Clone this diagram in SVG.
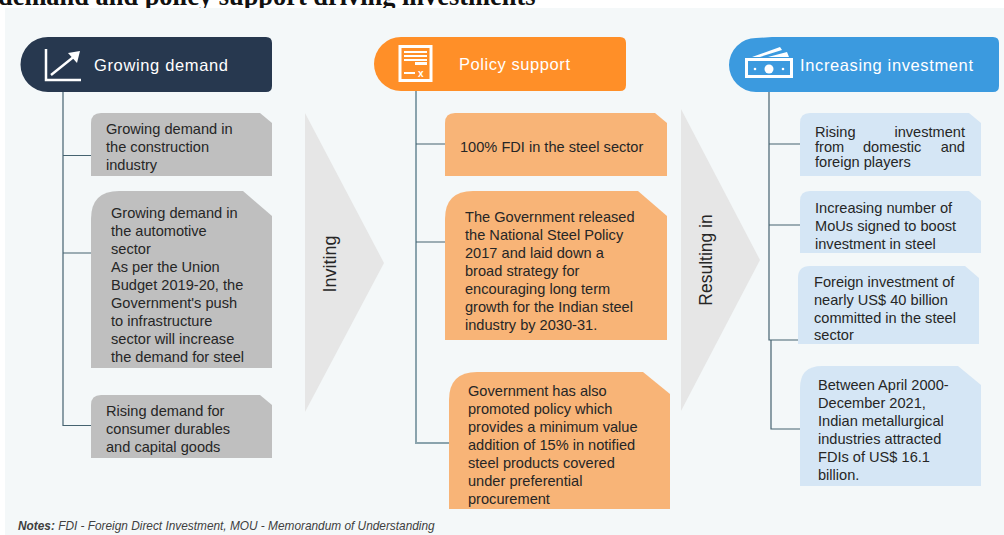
<svg xmlns="http://www.w3.org/2000/svg" width="1004" height="535" viewBox="0 0 1004 535">
<style>
text{font-family:"Liberation Sans",Arial,sans-serif}
.t{font-size:14.6px;fill:#262626;transform:translateY(.7px)}
.h{font-size:16.5px;fill:#fff}
.c{fill:none;stroke:#456370;stroke-width:1.2}
.o{fill:none;stroke:#8aa3ad;stroke-width:2}
.i{fill:none;stroke:#fff;stroke-width:2.5}
.gr{fill:#bfbfbf}.or{fill:#f8b477}.bl{fill:#d5e6f5}
.ar{fill:#e6e6e6}
</style>
<rect width="1004" height="535" fill="#fff"/>
<text x="-2" y="5" font-size="26.4" font-weight="bold" style="font-family:'Liberation Serif',serif" fill="#111">demand and policy support driving investments</text>
<rect x="5" y="8" width="999" height="527" fill="#f4f8f9"/>
<g id="arrow-inviting"><path class="ar" d="M305 113L384 263L305 412Z"/><text transform="translate(336 264) rotate(-90)" text-anchor="middle" font-size="18" fill="#262626">Inviting</text></g>
<g id="arrow-resulting"><path class="ar" d="M681 109L760 260L681 411Z"/><text transform="translate(712 260) rotate(-90)" text-anchor="middle" font-size="17.500" fill="#262626">Resulting in</text></g>
<g id="connectors">
<path class="c" d="M63 92V425.500H91M63 155.500H91M63 253H91"/>
<path class="o" d="M416 91V443H449"/>
<path class="c" d="M416 144H445M416 242H445"/>
<path class="c" d="M769 92V340H800M769 144H800M769 225H800M771 340V429H800"/>
</g>
<g id="growing-demand">
<path fill="#27384f" d="M48 37H266Q272 37 272 43V86Q272 92 266 92H48A27.500 27.500 0 0 1 48 37Z"/>
<path class="i" d="M46 49V80H81"/><path class="i" d="M51 75L76 55"/><path fill="#fff" d="M80 51L68 53L77 63Z"/>
<text class="h" x="94" y="71" textLength="134">Growing demand</text>
</g>
<g id="policy-support">
<path fill="#ff8f28" d="M401 37H620Q626 37 626 43V85Q626 91 620 91H401A27 27 0 0 1 401 37Z"/>
<rect x="400" y="46.500" width="31" height="34" fill="none" stroke="#fff" stroke-width="3"/>
<path fill="#fff" d="M404 51H427V53H404ZM404 55H427V57H404ZM404 59H427V61H404ZM415 62H427V65H415ZM404 72H415V74H404Z"/>
<text x="418" y="77" font-size="10" font-weight="bold" fill="#fff">x</text>
<text class="h" x="459" y="70" textLength="111">Policy support</text>
</g>
<g id="increasing-investment">
<path fill="#3b9adf" d="M756 38L772 37H993Q999 37 999 43V86Q999 92 993 92H756A27 27 0 0 1 756 38Z"/>
<path fill="#fff" d="M752 57L780 47L782 50L760 57ZM768 57L787 52L789 57Z"/>
<rect x="746.500" y="59.500" width="45" height="17" fill="none" stroke="#fff" stroke-width="3"/>
<circle cx="769" cy="69" r="4.500" fill="#fff"/><circle cx="755" cy="69" r="1.300" fill="#fff"/><circle cx="783" cy="69" r="1.300" fill="#fff"/>
<text class="h" x="800" y="71" textLength="173">Increasing investment</text>
</g>
<g id="demand-1"><path class="gr" d="M101 113H260L272 123V176H91V123Q91 113 101 113Z"/>
<text class="t"><tspan x="106" y="133">Growing demand in</tspan><tspan x="106" y="151">the construction</tspan><tspan x="106" y="169">industry</tspan></text></g>
<g id="demand-2"><path class="gr" d="M119 191H243L272 216V368H91V219Q91 191 119 191Z"/>
<text class="t"><tspan x="111" y="217">Growing demand in</tspan><tspan x="111" y="235">the automotive</tspan><tspan x="111" y="253">sector</tspan><tspan x="111" y="271.500">As per the Union</tspan><tspan x="111" y="289.500">Budget 2019-20, the</tspan><tspan x="111" y="307">Government's push</tspan><tspan x="111" y="325">to infrastructure</tspan><tspan x="111" y="343">sector will increase</tspan><tspan x="111" y="361">the demand for steel</tspan></text></g>
<g id="demand-3"><path class="gr" d="M101 395H260L272 405V458H91V405Q91 395 101 395Z"/>
<text class="t"><tspan x="106" y="415">Rising demand for</tspan><tspan x="106" y="433">consumer durables</tspan><tspan x="106" y="451">and capital goods</tspan></text></g>
<g id="policy-1"><path class="or" d="M455 113H655L667 123V176H445V123Q445 113 455 113Z"/>
<text class="t" x="460" y="151">100% FDI in the steel sector</text></g>
<g id="policy-2"><path class="or" d="M473 191H638L667 216V340H445V219Q445 191 473 191Z"/>
<text class="t"><tspan x="465" y="221">The Government released</tspan><tspan x="465" y="239">the National Steel Policy</tspan><tspan x="465" y="257.500">2017 and laid down a</tspan><tspan x="465" y="275">broad strategy for</tspan><tspan x="465" y="293">encouraging long term</tspan><tspan x="465" y="311">growth for the Indian steel</tspan><tspan x="465" y="329">industry by 2030-31.</tspan></text></g>
<g id="policy-3"><path class="or" d="M477 372H643L670 394V509H449V400Q449 372 477 372Z"/>
<text class="t"><tspan x="468" y="395.500">Government has also</tspan><tspan x="468" y="413.500">promoted policy which</tspan><tspan x="468" y="431.500">provides a minimum value</tspan><tspan x="468" y="449.500">addition of 15% in notified</tspan><tspan x="468" y="467.500">steel products covered</tspan><tspan x="468" y="485.500">under preferential</tspan><tspan x="468" y="503.500">procurement</tspan></text></g>
<g id="invest-1"><path class="bl" d="M810 113H969L981 123V176H800V123Q800 113 810 113Z"/>
<text class="t"><tspan x="815" y="136">Rising</tspan><tspan x="965" y="136" text-anchor="end">investment</tspan><tspan x="815" y="151.500">from</tspan><tspan x="863" y="151.500">domestic</tspan><tspan x="965" y="151.500" text-anchor="end">and</tspan><tspan x="815" y="166">foreign players</tspan></text></g>
<g id="invest-2"><path class="bl" d="M810 191H969L981 201V253H800V201Q800 191 810 191Z"/>
<text class="t"><tspan x="815" y="212">Increasing number of</tspan><tspan x="815" y="230">MoUs signed to boost</tspan><tspan x="815" y="248">investment in steel</tspan></text></g>
<g id="invest-3"><path class="bl" d="M810 266H965L979 278V344H798V278Q798 266 810 266Z"/>
<text class="t"><tspan x="814" y="286">Foreign investment of</tspan><tspan x="814" y="304">nearly US$ 40 billion</tspan><tspan x="814" y="322">committed in the steel</tspan><tspan x="814" y="339">sector</tspan></text></g>
<g id="invest-4"><path class="bl" d="M822 366H958L981 385V486H800V388Q800 366 822 366Z"/>
<text class="t"><tspan x="818" y="389">Between April 2000-</tspan><tspan x="818" y="407">December 2021,</tspan><tspan x="818" y="425">Indian metallurgical</tspan><tspan x="818" y="443">industries attracted</tspan><tspan x="818" y="461">FDIs of US$ 16.1</tspan><tspan x="818" y="479">billion.</tspan></text></g>
<text x="18" y="530" font-size="11.850" font-style="italic" fill="#404040"><tspan font-weight="bold">Notes:</tspan> FDI - Foreign Direct Investment, MOU - Memorandum of Understanding</text>
</svg>
